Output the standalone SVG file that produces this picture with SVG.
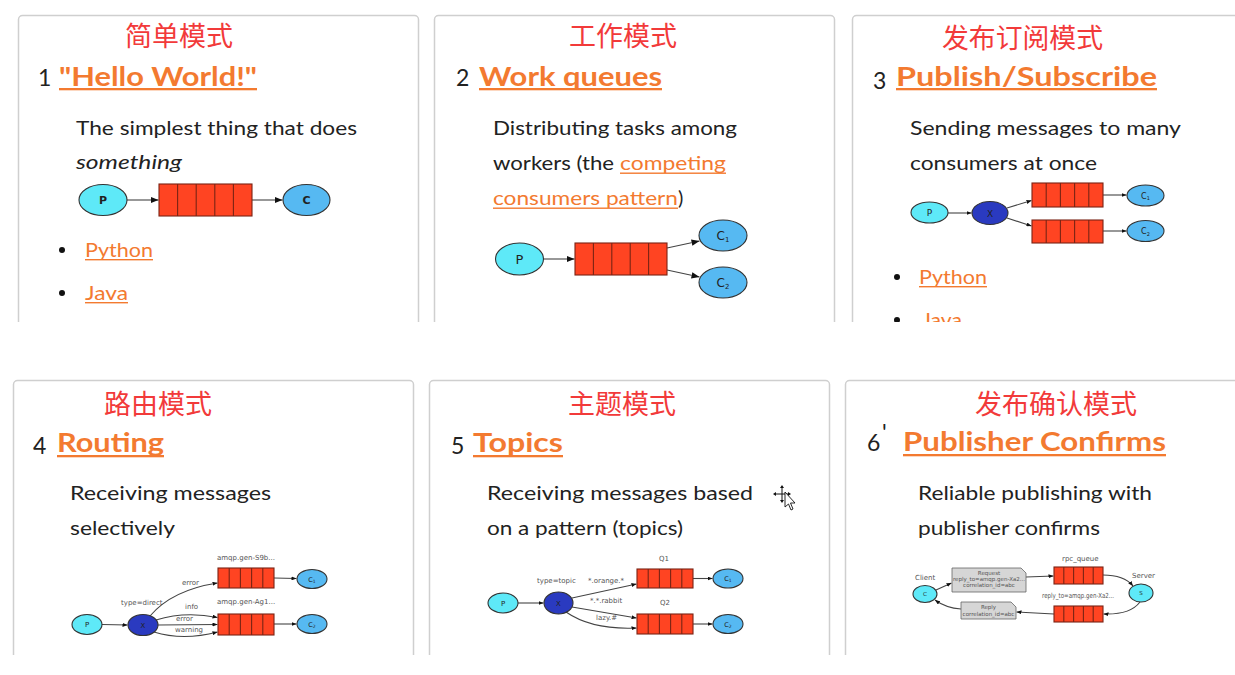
<svg xmlns="http://www.w3.org/2000/svg" width="1235" height="675" viewBox="0 0 1235 675">
<style>
.bg{fill:#ffffff}
.panel{fill:#ffffff;stroke:#cfcfcf;stroke-width:1.5}
.cn{font-family:"Noto Sans CJK SC","Noto Sans",sans-serif;font-size:27px;fill:#f23a3a}
.num{font-family:Lato,"Open Sans",sans-serif;font-size:23px;fill:#222}
.head{font-family:Lato,"Open Sans",sans-serif;font-size:27px;font-weight:bold;fill:#f37a30}
.ul{fill:#f37a30}
.body{font-family:Lato,"Open Sans",sans-serif;font-size:20px;fill:#222}
.link{font-family:Lato,"Open Sans",sans-serif;font-size:20px;fill:#f37a30}
.bul{fill:#111}
.q{fill:#ff4422;stroke:#7a2414;stroke-width:1.1}
.qc{stroke:#7a2414;stroke-width:1.1}
.pn{fill:#5ee9f8;stroke:#333;stroke-width:1.1}
.cnode{fill:#56b9f2;stroke:#333;stroke-width:1.1}
.xn{fill:#2a3ac0;stroke:#333;stroke-width:1.1}
.nt{font-family:"DejaVu Sans",sans-serif;fill:#222;text-anchor:middle}
.sm{font-family:"DejaVu Sans",sans-serif;font-size:7px;fill:#555}
.tiny{font-family:"DejaVu Sans",sans-serif;font-size:5.5px;fill:#555;text-anchor:middle}
.edge{fill:none;stroke:#444;stroke-width:1.1}
.box{fill:#d6d6d6;stroke:#666;stroke-width:0.8}
</style>
<defs>
<marker id="ah" viewBox="0 0 10 8" refX="10" refY="4" markerWidth="8" markerHeight="6.4" markerUnits="userSpaceOnUse" orient="auto"><path d="M0,0 L10,4 L0,8 Z" fill="#111"/></marker>
<marker id="ahs" viewBox="0 0 10 8" refX="10" refY="4" markerWidth="5" markerHeight="4" markerUnits="userSpaceOnUse" orient="auto"><path d="M0,0 L10,4 L0,8 Z" fill="#111"/></marker>
<clipPath id="row1"><rect x="0" y="0" width="1235" height="322"/></clipPath>
<clipPath id="row2"><rect x="0" y="370" width="1235" height="285"/></clipPath>
</defs>
<rect class="bg" x="0" y="0" width="1235" height="675"/>

<!-- Panel 1 -->
<g id="panel1" clip-path="url(#row1)">
<rect class="panel" x="18.5" y="15.5" width="400" height="340" rx="4"/>
<text class="cn" x="125" y="46" textLength="108" lengthAdjust="spacingAndGlyphs">简单模式</text>
<text class="num" x="38" y="86">1</text>
<text class="head" x="59" y="86" textLength="198" lengthAdjust="spacingAndGlyphs">"Hello World!"</text>
<rect class="ul" x="59" y="88" width="198" height="2.3"/>
<text class="body" x="76" y="135" textLength="281" lengthAdjust="spacingAndGlyphs">The simplest thing that does</text>
<text class="body" x="76" y="169" font-style="italic" textLength="106" lengthAdjust="spacingAndGlyphs">something</text>
<g id="p1-connectors">
<line class="edge" x1="127" y1="200" x2="158.5" y2="200" marker-end="url(#ah)"/>
<line class="edge" x1="252" y1="200" x2="282.5" y2="200" marker-end="url(#ah)"/>
</g>
<g id="p1-P"><ellipse class="pn" cx="103" cy="200" rx="24" ry="15.5"/><text class="nt" x="103" y="204" font-size="11" font-weight="bold">P</text></g>
<g id="p1-queue"><rect class="q" x="159" y="184" width="93" height="32"/><path class="qc" d="M177.6,184V216M196.2,184V216M214.8,184V216M233.4,184V216"/></g>
<g id="p1-C"><ellipse class="cnode" cx="306.5" cy="200" rx="23.5" ry="15.5"/><text class="nt" x="306.5" y="204" font-size="11" font-weight="bold">C</text></g>
<circle class="bul" cx="62" cy="250" r="3"/>
<text class="link" x="85" y="257" textLength="68" lengthAdjust="spacingAndGlyphs">Python</text>
<rect class="ul" x="85" y="259" width="68" height="1.4"/>
<circle class="bul" cx="62" cy="293" r="3"/>
<text class="link" x="85" y="300" textLength="43" lengthAdjust="spacingAndGlyphs">Java</text>
<rect class="ul" x="85" y="302" width="43" height="1.4"/>
</g>

<!-- Panel 2 -->
<g id="panel2" clip-path="url(#row1)">
<rect class="panel" x="434.5" y="15.5" width="400" height="340" rx="4"/>
<text class="cn" x="569" y="46" textLength="108" lengthAdjust="spacingAndGlyphs">工作模式</text>
<text class="num" x="456" y="86">2</text>
<text class="head" x="479" y="86" textLength="183" lengthAdjust="spacingAndGlyphs">Work queues</text>
<rect class="ul" x="479" y="88" width="183" height="2.3"/>
<text class="body" x="493" y="135" textLength="244" lengthAdjust="spacingAndGlyphs">Distributing tasks among</text>
<text class="body" x="493" y="170" textLength="121" lengthAdjust="spacingAndGlyphs">workers (the</text>
<text class="link" x="620" y="170" textLength="106" lengthAdjust="spacingAndGlyphs">competing</text>
<rect class="ul" x="620" y="172.5" width="106" height="1.4"/>
<text class="link" x="493" y="205" textLength="185" lengthAdjust="spacingAndGlyphs">consumers pattern</text>
<rect class="ul" x="493" y="207.5" width="185" height="1.4"/>
<text class="body" x="678" y="205">)</text>
<g id="p2-connectors">
<line class="edge" x1="543.5" y1="259" x2="574.5" y2="259" marker-end="url(#ah)"/>
<line class="edge" x1="667" y1="248" x2="699.5" y2="241" marker-end="url(#ah)"/>
<line class="edge" x1="667" y1="270" x2="699.5" y2="277" marker-end="url(#ah)"/>
</g>
<g id="p2-P"><ellipse class="pn" cx="519.5" cy="259" rx="24" ry="16"/><text class="nt" x="519.5" y="264" font-size="13">P</text></g>
<g id="p2-queue"><rect class="q" x="575" y="243" width="92" height="32"/><path class="qc" d="M593.4,243V275M611.8,243V275M630.2,243V275M648.6,243V275"/></g>
<g id="p2-C1"><ellipse class="cnode" cx="723" cy="235.5" rx="24" ry="15.5"/><text class="nt" x="723" y="240" font-size="12">C<tspan font-size="7" dy="2">1</tspan></text></g>
<g id="p2-C2"><ellipse class="cnode" cx="723" cy="282.5" rx="24" ry="15.5"/><text class="nt" x="723" y="287" font-size="12">C<tspan font-size="7" dy="2">2</tspan></text></g>
</g>

<!-- Panel 3 -->
<g id="panel3" clip-path="url(#row1)">
<rect class="panel" x="852.5" y="15.5" width="420" height="340" rx="4"/>
<text class="cn" x="942" y="48" textLength="161" lengthAdjust="spacingAndGlyphs">发布订阅模式</text>
<text class="num" x="873" y="89">3</text>
<text class="head" x="896" y="86" textLength="261" lengthAdjust="spacingAndGlyphs">Publish/Subscribe</text>
<rect class="ul" x="896" y="88" width="261" height="2.3"/>
<text class="body" x="910" y="135" textLength="271" lengthAdjust="spacingAndGlyphs">Sending messages to many</text>
<text class="body" x="910" y="170" textLength="187" lengthAdjust="spacingAndGlyphs">consumers at once</text>
<g id="p3-connectors">
<line class="edge" x1="948" y1="213" x2="971.5" y2="213" marker-end="url(#ahs)"/>
<line class="edge" x1="1007" y1="208" x2="1031.5" y2="200.5" marker-end="url(#ahs)"/>
<line class="edge" x1="1007" y1="218" x2="1031.5" y2="226" marker-end="url(#ahs)"/>
<line class="edge" x1="1103" y1="195" x2="1126.5" y2="195" marker-end="url(#ahs)"/>
<line class="edge" x1="1103" y1="231" x2="1126.5" y2="231" marker-end="url(#ahs)"/>
</g>
<g id="p3-P"><ellipse class="pn" cx="929.5" cy="212.5" rx="18.5" ry="10.5"/><text class="nt" x="929.5" y="216" font-size="9" fill="#3a6e80">P</text></g>
<g id="p3-X"><ellipse class="xn" cx="990" cy="213" rx="18" ry="11.5"/><text class="nt" x="990" y="216.5" font-size="9" fill="#1c2a80">X</text></g>
<g id="p3-Q1"><rect class="q" x="1032" y="183" width="71" height="24"/><path class="qc" d="M1046.2,183V207M1060.4,183V207M1074.6,183V207M1088.8,183V207"/></g>
<g id="p3-Q2"><rect class="q" x="1032" y="220" width="71" height="23"/><path class="qc" d="M1046.2,220V243M1060.4,220V243M1074.6,220V243M1088.8,220V243"/></g>
<g id="p3-C1"><ellipse class="cnode" cx="1145.5" cy="195.5" rx="18.5" ry="10.5"/><text class="nt" x="1145.5" y="198.5" font-size="8" fill="#2a5a80">C<tspan font-size="5" dy="1.5">1</tspan></text></g>
<g id="p3-C2"><ellipse class="cnode" cx="1145.5" cy="231" rx="18.5" ry="10.5"/><text class="nt" x="1145.5" y="234" font-size="8" fill="#2a5a80">C<tspan font-size="5" dy="1.5">2</tspan></text></g>
<circle class="bul" cx="897" cy="277" r="3"/>
<text class="link" x="919" y="284" textLength="68" lengthAdjust="spacingAndGlyphs">Python</text>
<rect class="ul" x="919" y="286" width="68" height="1.4"/>
<circle class="bul" cx="897" cy="320" r="3"/>
<text class="link" x="922" y="327" textLength="40" lengthAdjust="spacingAndGlyphs">Java</text>
</g>

<!-- Panel 4 -->
<g id="panel4" clip-path="url(#row2)">
<rect class="panel" x="13.5" y="380.5" width="400" height="320" rx="4"/>
<text class="cn" x="104" y="414" textLength="108" lengthAdjust="spacingAndGlyphs">路由模式</text>
<text class="num" x="33" y="454">4</text>
<text class="head" x="57" y="452" textLength="107" lengthAdjust="spacingAndGlyphs">Routing</text>
<rect class="ul" x="57" y="455" width="107" height="2.3"/>
<text class="body" x="70" y="500" textLength="201" lengthAdjust="spacingAndGlyphs">Receiving messages</text>
<text class="body" x="70" y="535" textLength="105" lengthAdjust="spacingAndGlyphs">selectively</text>
<text class="sm" x="217" y="560">amqp.gen-S9b...</text>
<text class="sm" x="217" y="604">amqp.gen-Ag1...</text>
<text class="sm" x="121" y="605">type=direct</text>
<text class="sm" x="182" y="585">error</text>
<text class="sm" x="185" y="609">info</text>
<text class="sm" x="176" y="620.5">error</text>
<text class="sm" x="175" y="632">warning</text>
<g id="p4-connectors">
<line class="edge" x1="102" y1="624.5" x2="127.5" y2="625" marker-end="url(#ahs)"/>
<path class="edge" d="M150,616 Q172,590 217.5,583" marker-end="url(#ahs)"/>
<path class="edge" d="M156,620 Q185,611 217.5,617.5" marker-end="url(#ahs)"/>
<path class="edge" d="M158,625 L217.5,624.5" marker-end="url(#ahs)"/>
<path class="edge" d="M154,632 Q183,641 217.5,632" marker-end="url(#ahs)"/>
<line class="edge" x1="274" y1="578" x2="296.5" y2="578.5" marker-end="url(#ahs)"/>
<line class="edge" x1="274" y1="624" x2="296.5" y2="624" marker-end="url(#ahs)"/>
</g>
<g id="p4-P"><ellipse class="pn" cx="87" cy="624.5" rx="15" ry="10"/><text class="nt" x="87" y="627" font-size="7" fill="#3a6e80">P</text></g>
<g id="p4-X"><ellipse class="xn" cx="143" cy="625" rx="15" ry="10.5"/><text class="nt" x="143" y="627.5" font-size="7" fill="#1c2a80">X</text></g>
<g id="p4-Q1"><rect class="q" x="218" y="568" width="56" height="20"/><path class="qc" d="M229.2,568V588M240.4,568V588M251.6,568V588M262.8,568V588"/></g>
<g id="p4-Q2"><rect class="q" x="218" y="614" width="56" height="21"/><path class="qc" d="M229.2,614V635M240.4,614V635M251.6,614V635M262.8,614V635"/></g>
<g id="p4-C1"><ellipse class="cnode" cx="312" cy="579" rx="15" ry="9.5"/><text class="nt" x="312" y="581.5" font-size="6.5" fill="#2a5a80">C<tspan font-size="4.5" dy="1">1</tspan></text></g>
<g id="p4-C2"><ellipse class="cnode" cx="312" cy="624" rx="15" ry="9.5"/><text class="nt" x="312" y="626.5" font-size="6.5" fill="#2a5a80">C<tspan font-size="4.5" dy="1">2</tspan></text></g>
</g>

<!-- Panel 5 -->
<g id="panel5" clip-path="url(#row2)">
<rect class="panel" x="429.5" y="380.5" width="400" height="320" rx="4"/>
<text class="cn" x="568" y="414" textLength="108" lengthAdjust="spacingAndGlyphs">主题模式</text>
<text class="num" x="451" y="454">5</text>
<text class="head" x="473" y="452" textLength="90" lengthAdjust="spacingAndGlyphs">Topics</text>
<rect class="ul" x="473" y="455" width="90" height="2.3"/>
<text class="body" x="487" y="500" textLength="266" lengthAdjust="spacingAndGlyphs">Receiving messages based</text>
<text class="body" x="487" y="535" textLength="196" lengthAdjust="spacingAndGlyphs">on a pattern (topics)</text>
<text class="sm" x="659" y="561">Q1</text>
<text class="sm" x="660" y="605">Q2</text>
<text class="sm" x="537" y="583">type=topic</text>
<text class="sm" x="588" y="583">*.orange.*</text>
<text class="sm" x="590" y="603">*.*.rabbit</text>
<text class="sm" x="596" y="620">lazy.#</text>
<g id="p5-connectors">
<line class="edge" x1="518" y1="603" x2="543.5" y2="603" marker-end="url(#ahs)"/>
<line class="edge" x1="572" y1="598" x2="636.5" y2="584" marker-end="url(#ahs)"/>
<line class="edge" x1="572" y1="607" x2="636.5" y2="618" marker-end="url(#ahs)"/>
<path class="edge" d="M566,612 Q592,630 636.5,628" marker-end="url(#ahs)"/>
<line class="edge" x1="693" y1="578.5" x2="712.5" y2="578.5" marker-end="url(#ahs)"/>
<line class="edge" x1="693" y1="624" x2="712.5" y2="624" marker-end="url(#ahs)"/>
</g>
<g id="p5-P"><ellipse class="pn" cx="503" cy="603" rx="15" ry="10"/><text class="nt" x="503" y="605.5" font-size="7" fill="#3a6e80">P</text></g>
<g id="p5-X"><ellipse class="xn" cx="558.5" cy="603" rx="14.5" ry="11"/><text class="nt" x="558.5" y="605.5" font-size="7" fill="#1c2a80">X</text></g>
<g id="p5-Q1"><rect class="q" x="637" y="569" width="56" height="19"/><path class="qc" d="M648.2,569V588M659.4,569V588M670.6,569V588M681.8,569V588"/></g>
<g id="p5-Q2"><rect class="q" x="637" y="614" width="56" height="20"/><path class="qc" d="M648.2,614V634M659.4,614V634M670.6,614V634M681.8,614V634"/></g>
<g id="p5-C1"><ellipse class="cnode" cx="728" cy="578.5" rx="15" ry="9.5"/><text class="nt" x="728" y="581" font-size="6.5" fill="#2a5a80">C<tspan font-size="4.5" dy="1">1</tspan></text></g>
<g id="p5-C2"><ellipse class="cnode" cx="728" cy="624" rx="15" ry="9.5"/><text class="nt" x="728" y="626.5" font-size="6.5" fill="#2a5a80">C<tspan font-size="4.5" dy="1">2</tspan></text></g>
<g id="cursor">
<path d="M782,487V501M775,494H789" stroke="#111" stroke-width="1" fill="none"/>
<path d="M782,485 L780,488 H784 Z M782,503 L780,500 H784 Z M773,494 L776,492 V496 Z M791,494 L788,492 V496 Z" fill="#111"/>
<path d="M785,492 L785,507 L788.5,504 L791,510 L793,509 L790.5,503 L795,503 Z" fill="#fff" stroke="#111" stroke-width="0.9"/>
</g>
</g>

<!-- Panel 6 -->
<g id="panel6" clip-path="url(#row2)">
<rect class="panel" x="845.5" y="380.5" width="420" height="320" rx="4"/>
<text class="cn" x="975" y="414" textLength="162" lengthAdjust="spacingAndGlyphs">发布确认模式</text>
<text class="num" x="867" y="451">6</text>
<text class="num" x="882" y="441" font-size="12" fill="#888">'</text>
<text class="head" x="903" y="451" textLength="263" lengthAdjust="spacingAndGlyphs">Publisher Confirms</text>
<rect class="ul" x="903" y="454" width="263" height="2.3"/>
<text class="body" x="918" y="500" textLength="234" lengthAdjust="spacingAndGlyphs">Reliable publishing with</text>
<text class="body" x="918" y="535" textLength="182" lengthAdjust="spacingAndGlyphs">publisher confirms</text>
<text class="sm" x="915" y="580" font-size="5.5">Client</text>
<text class="sm" x="1062" y="561" font-size="5.5">rpc_queue</text>
<text class="sm" x="1132" y="578" font-size="5.5">Server</text>
<text class="sm" x="1042" y="598" font-size="5.5" textLength="72" lengthAdjust="spacingAndGlyphs">reply_to=amqp.gen-Xa2...</text>
<g id="p6-connectors">
<line class="edge" x1="936" y1="590" x2="951.5" y2="583" stroke-width="0.8" marker-end="url(#ahs)"/>
<line class="edge" x1="1026" y1="577" x2="1053.5" y2="576" stroke-width="0.8" marker-end="url(#ahs)"/>
<path class="edge" d="M1103,575 Q1124,575 1133,586" stroke-width="0.8" marker-end="url(#ahs)"/>
<path class="edge" d="M1140,602 Q1130,615 1103.5,614" stroke-width="0.8" marker-end="url(#ahs)"/>
<line class="edge" x1="1054" y1="614" x2="1016.5" y2="612" stroke-width="0.8" marker-end="url(#ahs)"/>
<path class="edge" d="M961,609 Q946,608 935,600" stroke-width="0.8" marker-end="url(#ahs)"/>
</g>
<g id="p6-client"><ellipse class="pn" cx="925" cy="594" rx="12" ry="8.5"/><text class="nt" x="925" y="596" font-size="5.5" fill="#3a6e80">C</text></g>
<g id="p6-request"><path class="box" d="M952,568 H1021 L1026,573 V592 H952 Z"/><text class="tiny" x="989" y="575">Request</text><text class="tiny" x="989" y="581">reply_to=amqp.gen-Xa2...</text><text class="tiny" x="989" y="587">correlation_id=abc</text></g>
<g id="p6-rpcqueue"><rect class="q" x="1054" y="567" width="49" height="17" stroke-width="0.9"/><path class="qc" d="M1063.8,567V584M1073.6,567V584M1083.4,567V584M1093.2,567V584" stroke-width="0.9"/></g>
<g id="p6-server"><ellipse class="pn" cx="1141" cy="593" rx="12" ry="9"/><text class="nt" x="1141" y="595" font-size="5.5" fill="#3a6e80">S</text></g>
<g id="p6-replyqueue"><rect class="q" x="1054" y="606" width="49" height="16" stroke-width="0.9"/><path class="qc" d="M1063.8,606V622M1073.6,606V622M1083.4,606V622M1093.2,606V622" stroke-width="0.9"/></g>
<g id="p6-reply"><path class="box" d="M961,602 H1011 L1016,607 V619 H961 Z"/><text class="tiny" x="988.5" y="609">Reply</text><text class="tiny" x="988.5" y="615.5">correlation_id=abc</text></g>
</g>
</svg>
